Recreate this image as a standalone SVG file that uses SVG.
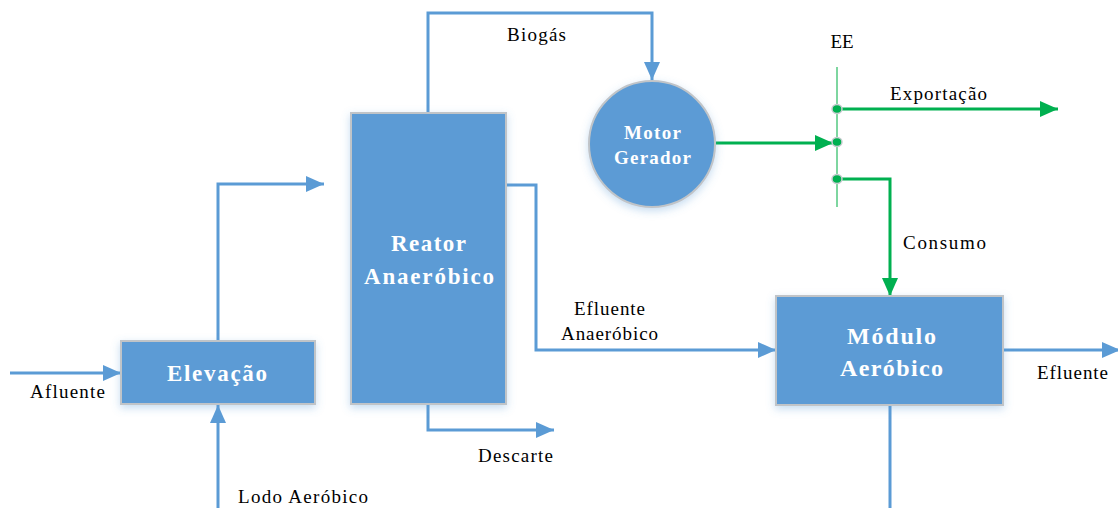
<svg xmlns="http://www.w3.org/2000/svg" width="1118" height="508" viewBox="0 0 1118 508">
<style>
.box{fill:#5B9BD5;stroke:#C0C4C8;stroke-width:2}
.nt{font-family:'Liberation Serif','Times New Roman','DejaVu Serif',serif;font-weight:bold;fill:#fff}
.lb{font-family:'Liberation Serif','Times New Roman','DejaVu Serif',serif;font-size:19px;fill:#000}
.bl{fill:none;stroke:#5B9BD5;stroke-width:3}
.gr{fill:none;stroke:#00B050;stroke-width:3}
</style>
<defs>
<filter id="sh" x="-20%" y="-20%" width="140%" height="140%"><feDropShadow dx="0" dy="3" stdDeviation="4" flood-color="#5B9BD5" flood-opacity="0.35"/></filter>
<marker id="ab" markerWidth="18" markerHeight="16" refX="18" refY="8" orient="auto" markerUnits="userSpaceOnUse"><path d="M0,0 L18,8 L0,16 Z" fill="#5B9BD5"/></marker>
<marker id="ag" markerWidth="18" markerHeight="16" refX="18" refY="8" orient="auto" markerUnits="userSpaceOnUse"><path d="M0,0 L18,8 L0,16 Z" fill="#00B050"/></marker>
</defs>
<g id="connectors">
<path class="bl" d="M10,373 H121" marker-end="url(#ab)"/>
<path class="bl" d="M218,508 V405" marker-end="url(#ab)"/>
<path class="bl" d="M218,341 V184 H324" marker-end="url(#ab)"/>
<path class="bl" d="M428,113 V13 H652 V80" marker-end="url(#ab)"/>
<path class="bl" d="M506,185 H536 V350 H776" marker-end="url(#ab)"/>
<path class="bl" d="M428,404 V430 H554" marker-end="url(#ab)"/>
<path class="bl" d="M1003,350 H1120" marker-end="url(#ab)"/>
<path class="bl" d="M890,405 V508"/>
<path d="M837,67 V207" stroke="#7ED6A0" stroke-width="2" fill="none"/>
<path class="gr" d="M837,109 H1058" marker-end="url(#ag)"/>
<path class="gr" d="M716,143 H833" marker-end="url(#ag)"/>
<path class="gr" d="M837,179 H890 V296" marker-end="url(#ag)"/>
<g fill="#00B050" stroke="#C8CCD0" stroke-width="1.5">
<ellipse cx="837" cy="109" rx="5" ry="4.5"/>
<ellipse cx="837" cy="142" rx="5" ry="4.5"/>
<ellipse cx="837" cy="179" rx="5" ry="4.5"/>
</g>
<text class="lb" x="30" y="398" textLength="75" lengthAdjust="spacing">Afluente</text>
<text class="lb" x="238" y="503" textLength="130" lengthAdjust="spacing">Lodo Aeróbico</text>
<text class="lb" x="507" y="41" textLength="59" lengthAdjust="spacing">Biogás</text>
<text class="lb" x="574" y="315" textLength="71" lengthAdjust="spacing">Efluente</text>
<text class="lb" x="561" y="340" textLength="97" lengthAdjust="spacing">Anaeróbico</text>
<text class="lb" x="478" y="462" textLength="75" lengthAdjust="spacing">Descarte</text>
<text class="lb" x="1037" y="379" textLength="71" lengthAdjust="spacing">Efluente</text>
<text class="lb" x="842" y="48" text-anchor="middle">EE</text>
<text class="lb" x="890" y="100" textLength="97" lengthAdjust="spacing">Exportação</text>
<text class="lb" x="903" y="249" textLength="83" lengthAdjust="spacing">Consumo</text>
</g>
<g id="elevacao">
<rect class="box" x="121" y="341" width="194" height="63" filter="url(#sh)"/>
<text class="nt" x="167" y="381" font-size="23" textLength="100" lengthAdjust="spacing">Elevação</text>
</g>
<g id="reator">
<rect class="box" x="351" y="113" width="155" height="291" filter="url(#sh)"/>
<text class="nt" x="391" y="251" font-size="23" textLength="75" lengthAdjust="spacing">Reator</text>
<text class="nt" x="364" y="284" font-size="23" textLength="130" lengthAdjust="spacing">Anaeróbico</text>
</g>
<g id="motor">
<circle class="box" cx="652" cy="144" r="63" filter="url(#sh)"/>
<text class="nt" x="624" y="139" font-size="19" textLength="57" lengthAdjust="spacing">Motor</text>
<text class="nt" x="614" y="164" font-size="19" textLength="77" lengthAdjust="spacing">Gerador</text>
</g>
<g id="modulo">
<rect class="box" x="776" y="296" width="227" height="109" filter="url(#sh)"/>
<text class="nt" x="847" y="344" font-size="24" textLength="89" lengthAdjust="spacing">Módulo</text>
<text class="nt" x="840" y="376" font-size="24" textLength="103" lengthAdjust="spacing">Aeróbico</text>
</g>
</svg>
